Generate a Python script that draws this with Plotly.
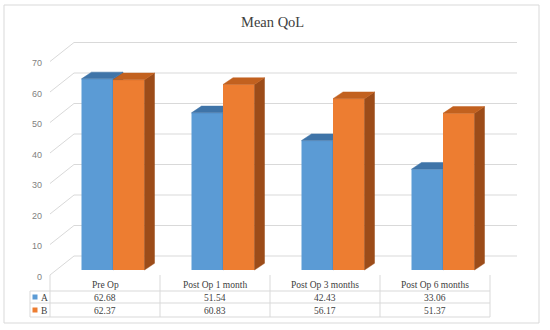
import plotly.graph_objects as go

# ---------------- data ----------------
categories = ["Pre Op", "Post Op 1 month", "Post Op 3 months", "Post Op 6 months"]
series_names = ["A", "B"]
values_a = [62.68, 51.54, 42.43, 33.06]
values_b = [62.37, 60.83, 56.17, 51.37]
y_ticks = [0, 10, 20, 30, 40, 50, 60, 70]
title_text = "Mean QoL"

# ---------------- geometry (pixels) ----------------
W, H = 550, 330
PX_PER_CAT = 110.0
CAT0_PX = 113.0       # front-face centre of first category group
ZERO_PX = 270.0       # pixel row of value 0 at bar front
PX_PER_UNIT = 3.05


def px2x(p):
    return (p - CAT0_PX) / PX_PER_CAT


def py2v(p):
    return (ZERO_PX - p) / PX_PER_UNIT


def pyp(p):
    return 1 - p / H


def pxp(p):
    return p / W


XR = [px2x(0), px2x(W)]
YR = [py2v(H), py2v(0)]

BAR_W = 31.5 / PX_PER_CAT
DDX = 10.0 / PX_PER_CAT
DDY = 6.7 / PX_PER_UNIT

FRONT_DY = py2v(275)      # floor front edge offset (value units)
LABEL_DY = py2v(276.5)    # tick label vertical position
BACK_DY = py2v(256)       # back wall offset
FRONT_L = px2x(50)
BACK_L = px2x(74)
BACK_R = px2x(517)

GRID = "#D9D9D9"
series_styles = [
    dict(front="#5B9BD5", top="#3F74A8", side="#3A6896", offset=-BAR_W),
    dict(front="#ED7D31", top="#C2611F", side="#9C4C19", offset=0.0),
]
all_values = [values_a, values_b]

fig = go.Figure()
idx = list(range(len(categories)))

for s, (name, vals, st) in enumerate(zip(series_names, all_values, series_styles)):
    xa = "x" if s == 0 else "x2"
    ya = "y" if s == 0 else "y2"
    fig.add_trace(go.Bar(
        x=idx, y=vals, width=BAR_W, offset=st["offset"], name=name,
        marker=dict(color=st["front"], line=dict(width=0)),
        xaxis=xa, yaxis=ya, showlegend=False, hoverinfo="skip"))
    tx, ty, sx, sy = [], [], [], []
    for i, v in zip(idx, vals):
        x0 = i + st["offset"]
        x1 = x0 + BAR_W
        tx += [x0, x1, x1 + DDX, x0 + DDX, x0, None]
        ty += [v, v, v + DDY, v + DDY, v, None]
        sx += [x1, x1 + DDX, x1 + DDX, x1, x1, None]
        sy += [0, DDY, v + DDY, v, 0, None]
    fig.add_trace(go.Scatter(x=sx, y=sy, mode="lines", fill="toself",
                             fillcolor=st["side"], line=dict(color=st["side"], width=0.5),
                             xaxis=xa, yaxis=ya, showlegend=False, hoverinfo="skip"))
    fig.add_trace(go.Scatter(x=tx, y=ty, mode="lines", fill="toself",
                             fillcolor=st["top"], line=dict(color=st["top"], width=0.5),
                             xaxis=xa, yaxis=ya, showlegend=False, hoverinfo="skip"))

shapes = []
annotations = []

# back wall gridlines + left wall diagonals + y labels
for g in y_ticks:
    shapes.append(dict(type="line", xref="x", yref="y", layer="below",
                       x0=BACK_L, y0=g + BACK_DY, x1=BACK_R, y1=g + BACK_DY,
                       line=dict(color=GRID, width=1)))
    shapes.append(dict(type="line", xref="x", yref="y", layer="below",
                       x0=FRONT_L, y0=g + FRONT_DY, x1=BACK_L, y1=g + BACK_DY,
                       line=dict(color=GRID, width=1)))
    annotations.append(dict(xref="x", yref="y", x=px2x(44), y=g + LABEL_DY,
                            text=str(g), showarrow=False, xanchor="right", yanchor="middle",
                            font=dict(family="Liberation Sans", size=9, color="#7F7F7F")))

# data table
n = len(categories)
col_edges = [j + px2x(50) for j in range(n + 1)]
TABLE_TOP, ROW1, ROW2, TABLE_BOT = 275, 291, 303, 317
for j, xe in enumerate(col_edges):
    shapes.append(dict(type="line", xref="x", yref="paper",
                       x0=xe, x1=xe, y0=pyp(TABLE_TOP), y1=pyp(TABLE_BOT),
                       line=dict(color=GRID, width=1)))
shapes.append(dict(type="line", xref="paper", yref="paper",
                   x0=pxp(30), x1=pxp(30), y0=pyp(ROW1), y1=pyp(TABLE_BOT),
                   line=dict(color=GRID, width=1)))
for yy in (ROW1, ROW2, TABLE_BOT):
    shapes.append(dict(type="line", xref="paper", yref="paper",
                       x0=pxp(30), x1=pxp(490), y0=pyp(yy), y1=pyp(yy),
                       line=dict(color=GRID, width=1)))

tfont = dict(family="Liberation Serif", size=9.5, color="#404040")
row_y = [pyp(297.5), pyp(310.5)]
for i, c in enumerate(categories):
    xc = (col_edges[i] + col_edges[i + 1]) / 2
    annotations.append(dict(xref="x", yref="paper", x=xc, y=pyp(284.5),
                            text=c, showarrow=False, font=tfont,
                            xanchor="center", yanchor="middle"))
    for r, vals in enumerate(all_values):
        annotations.append(dict(xref="x", yref="paper", x=xc, y=row_y[r],
                                text=f"{vals[i]:.2f}", showarrow=False, font=tfont,
                                xanchor="center", yanchor="middle"))
for r, (name, st) in enumerate(zip(series_names, series_styles)):
    cy = [297, 310][r]
    shapes.append(dict(type="rect", xref="paper", yref="paper",
                       x0=pxp(32.5), x1=pxp(37.5), y0=pyp(cy + 2.5), y1=pyp(cy - 2.5),
                       fillcolor=st["front"], line=dict(width=0)))
    annotations.append(dict(xref="paper", yref="paper", x=pxp(38.5), y=row_y[r],
                            text=name, showarrow=False, xanchor="left", yanchor="middle",
                            font=tfont))

# title
annotations.append(dict(xref="paper", yref="paper", x=pxp(272), y=pyp(22.5),
                        text=title_text, showarrow=False, xanchor="center", yanchor="middle",
                        font=dict(family="Liberation Serif", size=14.5, color="#404040")))

# outer border
shapes.append(dict(type="rect", xref="paper", yref="paper",
                   x0=pxp(4), x1=pxp(539), y0=pyp(323), y1=pyp(5),
                   line=dict(color=GRID, width=1), fillcolor="rgba(0,0,0,0)"))

axis_common = dict(visible=False, fixedrange=True, showgrid=False, zeroline=False)
fig.update_layout(
    width=W, height=H,
    margin=dict(l=0, r=0, t=0, b=0),
    paper_bgcolor="white", plot_bgcolor="white",
    barmode="overlay",
    showlegend=False,
    xaxis=dict(range=XR, **axis_common),
    yaxis=dict(range=YR, **axis_common),
    xaxis2=dict(range=XR, overlaying="x", **axis_common),
    yaxis2=dict(range=YR, overlaying="y", **axis_common),
    shapes=shapes,
    annotations=annotations,
)

fig.write_html("out.html", config={"displayModeBar": False},
               post_script="document.body.style.margin='0';document.body.style.overflow='hidden';")
